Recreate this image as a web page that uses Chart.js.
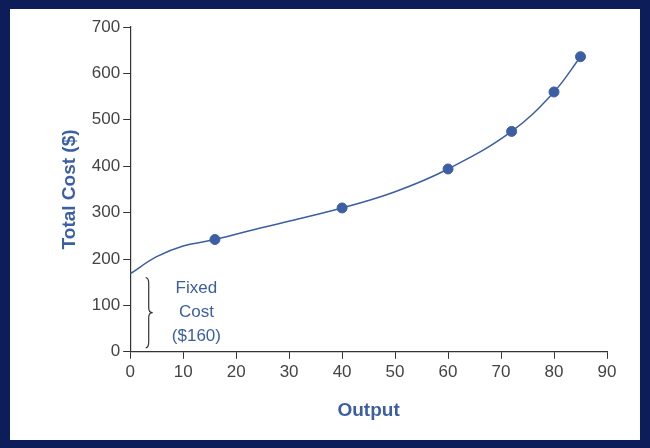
<!DOCTYPE html>
<html><head><script src="https://cdn.jsdelivr.net/npm/chart.js"></script>
<style>html,body{margin:0;padding:0;background:#0c1d5a;}#w{position:absolute;left:10px;top:9px;width:630px;height:431px;background:#fff;}</style></head>
<body><div id="w"><canvas id="c" width="630" height="431"></canvas></div>
<script>
const pointX=[16,40,60,72,80,85];
const pointY=[242,310,394,475,560,636];
const curveX=[0,5,10,16,25,40,50,60,72,80,85];
const curveY=[168,205,228,242,268,310,345,394,475,560,636];
const xTicks=[0,10,20,30,40,50,60,70,80,90];
const yTicks=[0,100,200,300,400,500,600,700];
const blue='#3c5ea3';
const brace={id:'brace',afterDraw(ch){const x=ch.scales.x,y=ch.scales.y,c=ch.ctx;
 const bx=x.getPixelForValue(3.5),t=y.getPixelForValue(160),b=y.getPixelForValue(0)-4,m=(t+b)/2;
 c.save();c.strokeStyle='#333';c.lineWidth=1.2;c.beginPath();
 c.moveTo(bx-3,t);c.quadraticCurveTo(bx,t,bx,t+6);c.lineTo(bx,m-5);c.quadraticCurveTo(bx,m,bx+4,m);
 c.quadraticCurveTo(bx,m,bx,m+5);c.lineTo(bx,b-6);c.quadraticCurveTo(bx,b,bx-3,b);c.stroke();
 c.fillStyle=blue;c.font='17px Arial, Liberation Sans';c.textAlign='center';c.textBaseline='middle';
 const tx=x.getPixelForValue(12.5);c.fillText('Fixed',tx,m-24);c.fillText('Cost',tx,m);c.fillText('($160)',tx,m+24);c.restore();}};
new Chart(document.getElementById('c'),{type:'scatter',
data:{datasets:[
{data:pointX.map((v,i)=>({x:v,y:pointY[i]})),backgroundColor:blue,borderColor:blue,pointRadius:5},
{type:'line',data:curveX.map((v,i)=>({x:v,y:curveY[i]})),borderColor:blue,borderWidth:1.5,pointRadius:0,tension:0.4,fill:false}]},
options:{responsive:false,animation:false,plugins:{legend:{display:false},tooltip:{enabled:false}},
layout:{padding:{left:44,right:33,top:18,bottom:14}},
scales:{
x:{type:'linear',min:0,max:90,afterBuildTicks(s){s.ticks=xTicks.map(v=>({value:v}));},
 grid:{display:true,drawOnChartArea:false,drawTicks:true,tickLength:7,color:'#333'},border:{color:'#333',width:1.2},
 ticks:{color:'#444',font:{size:17,family:'Arial, Liberation Sans'},padding:3},
 title:{display:true,text:'Output',color:blue,font:{size:19,weight:'bold',family:'Arial, Liberation Sans'},padding:{top:14}}},
y:{min:0,max:700,afterBuildTicks(s){s.ticks=yTicks.map(v=>({value:v}));},
 grid:{display:true,drawOnChartArea:false,tickLength:7,color:'#333'},border:{color:'#333',width:1.2},
 ticks:{color:'#444',font:{size:17,family:'Arial, Liberation Sans'},padding:3},
 title:{display:true,text:'Total Cost ($)',color:blue,font:{size:19,weight:'bold',family:'Arial, Liberation Sans'},padding:{bottom:8}}}}},
plugins:[brace]});
</script></body></html>
